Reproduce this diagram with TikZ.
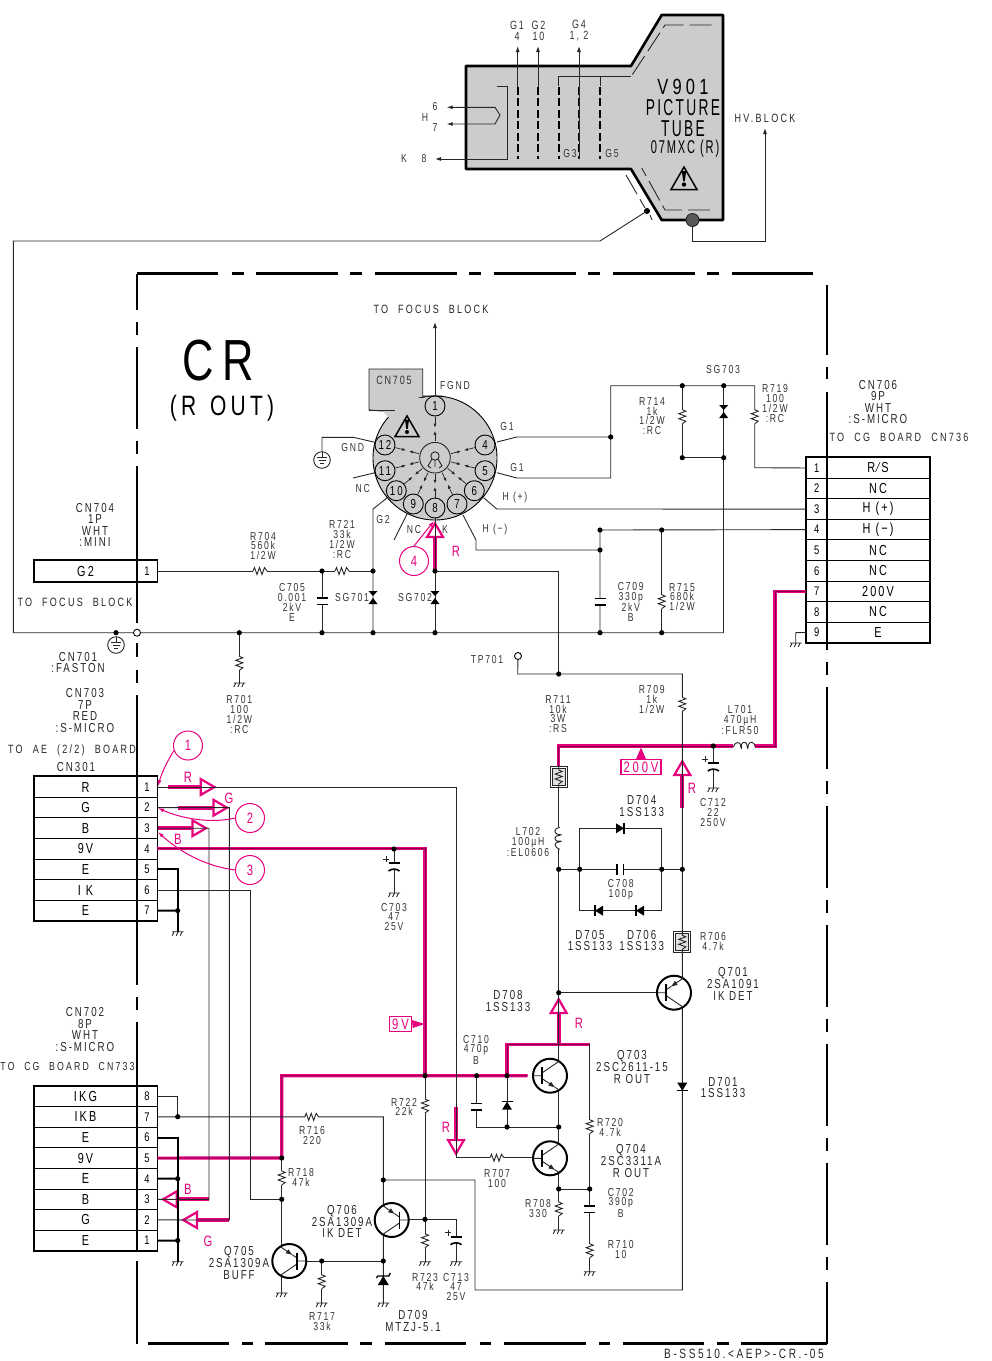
\documentclass[tikz,border=0pt]{standalone}
\usepackage{fontspec}
\setmainfont[FakeStretch=0.75,LetterSpace=15]{Liberation Sans}
\newfontfamily\tubefont[FakeStretch=0.6,LetterSpace=10]{Liberation Sans}
\newfontfamily\widefont[FakeStretch=0.75,LetterSpace=19,WordSpace=2.1]{Liberation Sans}
\usetikzlibrary{arrows.meta,calc}
\definecolor{pinkc}{RGB}{230,0,126}
\definecolor{boardgray}{RGB}{204,204,204}

\tikzset{
  wire/.style={line width=0.9pt,draw=black!85},
  thickwire/.style={line width=2pt,draw=black},
  frameline/.style={line width=2.8pt,draw=black},
  pinkwire/.style={line width=3.2pt,draw=pinkc,postaction={draw=pinkc!55!black,line width=0.8pt}},
  pinkarrow/.style={line width=4pt,draw=pinkc,-{Triangle[open,length=17pt,width=19pt,line width=2.2pt]}},
  lbl/.style={inner sep=0pt,align=center,text=black!80,font=\fontsize{11.5}{9.7}\selectfont},
  lblm/.style={inner sep=0pt,align=center,text=black!85,font=\fontsize{13}{11.6}\selectfont},
  lblw/.style={inner sep=0pt,text=black!85,font=\widefont\fontsize{12}{12}\selectfont},
  pinklbl/.style={inner sep=0pt,text=pinkc,font=\fontsize{15}{15}\selectfont},
  rowcell/.style={draw,line width=0.9pt,inner sep=0pt,minimum height=20.6pt,font=\fontsize{14.5}{14.5}\selectfont},
  pincell/.style={rowcell,minimum width=20pt,font=\fontsize{12.5}{12.5}\selectfont},
  pinc/.style={circle,draw,line width=0.9pt,fill=boardgray,inner sep=0pt,minimum size=20pt,font=\fontsize{13}{13}\selectfont},
  opendot/.style={circle,draw,fill=white,line width=0.9pt,inner sep=0pt,minimum size=7pt},
  callout/.style={circle,draw=pinkc,text=pinkc,line width=1pt,inner sep=0pt,minimum size=29pt,font=\fontsize{15}{15}\selectfont},
  flagbox/.style={draw=pinkc,text=pinkc,line width=1.2pt,inner sep=2.5pt,font=\widefont\fontsize{15}{15}\selectfont},
  resv/.pic={
    \draw[white,line width=2.5pt] (0,-7) -- (0,7);
    \draw[wire] (0,-7) -- (3.5,-5.5) -- (-3.5,-3) -- (3.5,-0.5) -- (-3.5,2) -- (3.5,4.5) -- (0,7);
  },
  resbox/.pic={
    \draw[wire,fill=white] (-8.5,-10.5) rectangle (8.5,10.5);
    \draw[wire,fill=boardgray!60] (-6.5,-8.5) rectangle (6.5,8.5);
    \draw[wire] (0,-10.5) -- (0,-7) -- (3.5,-5.5) -- (-3.5,-3) -- (3.5,-0.5) -- (-3.5,2) -- (3.5,4.5) -- (0,7) -- (0,10.5);
  },
  capv/.pic={
    \draw[white,line width=3pt] (0,-3.3) -- (0,3.3);
    \draw[line width=1.6pt] (-5.5,-3.3) -- (5.5,-3.3) (-5.5,3.3) -- (5.5,3.3);
  },
  elcap/.pic={
    \draw[white,line width=3pt] (0,-3) -- (0,3);
    \draw[line width=1.6pt] (-5.5,-3) -- (5.5,-3);
    \draw[line width=1.6pt] (-5.5,5) .. controls (-3,2.5) and (3,2.5) .. (5.5,5);
    \draw[wire] (-11,-7) -- (-5,-7) (-8,-10) -- (-8,-4);
  },
  diode/.pic={
    \fill (-5,-4) -- (5,-4) -- (0,4) -- cycle;
    \draw[line width=1.3pt] (-5.5,4) -- (5.5,4);
  },
  zener/.pic={
    \fill (-5.5,5) -- (5.5,5) -- (0,-4) -- cycle;
    \draw[line width=1.3pt] (-7,-2) -- (-5.5,-4) -- (5.5,-4) -- (7,-7);
  },
  sparkgap/.pic={
    \fill (-4.5,-6) -- (4.5,-6) -- (0,-1) -- cycle;
    \fill (-4.5,7) -- (4.5,7) -- (0,1) -- cycle;
  },
  gnd/.pic={
    \draw[wire] (-5.5,0) -- (6,0) (-3.5,0) -- (-5.5,4) (0.5,0) -- (-1.5,4) (4.5,0) -- (2.5,4);
  },
  egnd/.pic={
    \draw[wire,fill=white] (0,0) circle (8.3);
    \draw[wire] (0,-8.3) -- (0,-2.5) (-5,-2.5) -- (5,-2.5);
    \draw[wire] (-3.5,0.5) -- (3.5,0.5) (-2,3.5) -- (2,3.5);
  },
  indh/.pic={
    \draw[white,line width=4.5pt] (-11,0) -- (11,0);
    \draw[wire] (-11,1) .. controls (-9.5,-5) and (-3,-5) .. (-3.5,1) .. controls (-3.5,3) and (-2,3) .. (-3,-1) .. controls (-2,-5) and (3,-5) .. (3,1) .. controls (3,3) and (4,3) .. (4,-1) .. controls (5,-5) and (10,-5) .. (11,1);
  },
  warnsign/.pic={
    \draw[line width=1.5pt,line join=miter] (0,-11) -- (13,11.5) -- (-13,11.5) -- cycle;
    \fill (-2.2,-7) -- (2.2,-7) -- (0.8,3) -- (-0.8,3) -- cycle;
    \fill (0,6.5) circle (2.2);
  },
  npnq/.pic={
    \draw[line width=2pt,fill=white] (0,0) circle (17);
    \draw[wire] (-17,0) -- (-7.7,0) (-7.7,-3) -- (9,-14.4) (5,11.5) -- (9,14.4);
    \draw[line width=1.8pt] (-7.7,-8.5) -- (-7.7,8.5);
    \draw[wire,-{Latex[length=7pt,width=5pt]}] (-7.7,3) -- (5.5,12);
  },
  pnpq/.pic={
    \draw[line width=2pt,fill=white] (0,0) circle (17);
    \draw[wire] (-17,0) -- (-7.7,0) (-7.7,3) -- (9,14.4) (-7.7,-3) -- (-3,-6.2);
    \draw[line width=1.8pt] (-7.7,-8.5) -- (-7.7,8.5);
    \draw[wire,-{Latex[length=7pt,width=5pt]}] (9,-14.4) -- (-3.5,-5.8);
  },
}

\begin{document}
\begin{tikzpicture}[x=1pt,y=-1pt,>={Latex[length=6pt,width=4pt]}]
  \useasboundingbox (0,0) rectangle (992,1361);

  \foreach \a/\b in {273.5/310,322/335,347/429,441/454,466/622.7,643/657,670/683,695/985,997/1010,1022/1250,1261/1343.5}
    \draw[frameline] (137,\a) -- (137,\b);
  \foreach \a/\b in {285/355,367/379,392/650,662/675,687/769,781/794,806/888,900/913,925/1007,1019/1032,1044/1126,1138/1151,1163/1245,1257/1270,1282/1343.5}
    \draw[frameline] (827,\a) -- (827,\b);
  \foreach \a/\b in {137/218,231.5/244,255.5/337.5,350/362,374.5/456.5,469/481,493.5/575.5,588/600,612.5/694.5,707/719,731.5/813}
    \draw[frameline] (\a,273.5) -- (\b,273.5);
  \foreach \a/\b in {148/229,241.5/253,265/348,360/372,385/466,479.5/491,504/585.5,599/609.5,622.5/704,717/729,741/827}
    \draw[frameline] (\a,1343.5) -- (\b,1343.5);

  \draw[line width=2.6pt,fill=boardgray,line join=round] (466,66) -- (631,66) -- (661.7,15) -- (723,15) -- (723,220) -- (661.7,220) -- (631,169) -- (466,169) -- cycle;
  \draw[wire,dash pattern=on 22pt off 6pt] (711.7,25) -- (665,25) -- (631,76.7);
  \draw[wire] (631,76.7) -- (558.7,76.7) -- (558.7,86) (600,76.7) -- (600,86);
  \draw[wire,dash pattern=on 22pt off 6pt] (710,210) -- (665,210) -- (641.7,168);
  \draw[wire,dash pattern=on 22pt off 6pt] (626,175) -- (645,208);
  \draw[wire] (650,215) -- (652,220);
  \foreach \x in {517.7,538,558.7,579,600}
    \draw[line width=1.6pt,dash pattern=on 8pt off 3.5pt] (\x,86.7) -- (\x,159);
  \draw[wire,->] (517.7,86.7) -- (517.7,46);
  \draw[wire,->] (538,86.7) -- (538,46);
  \draw[wire,->] (579,159) -- (579,46);
  \draw[wire,->] (496.7,86.7) -- (507,86.7) -- (507,159) -- (435,159);
  \draw[wire,<->] (446.7,107.3) -- (495,107.3) -- (500,115) -- (495,124) -- (446.7,124);
  \coordinate (tubedot) at (647,211);
  \coordinate (hvdot) at (692.5,220);
  \fill (tubedot) circle (3);
  \draw[wire,->] (hvdot) -- (692.5,241) -- (765,241) -- (765,128);
  \draw[wire,fill=black!65] (hvdot) circle (6.5);
  \node[lbl,font=\fontsize{12}{11}\selectfont] (g1txt) at (517,30.5) {G1\\4};
  \node[lbl,font=\fontsize{12}{11}\selectfont] (g2txt) at (538.5,30.5) {G2\\10};
  \node[lbl,font=\fontsize{12}{11}\selectfont] (g4txt) at (579,30.5) {G4\\1, 2};
  \node[lbl] (htxt) at (425,118) {H};
  \node[lbl] (h6txt) at (435,107) {6};
  \node[lbl] (h7txt) at (435,128) {7};
  \node[lbl] (ktxt) at (404,159) {K};
  \node[lbl] (k8txt) at (424,159) {8};
  \node[lbl] (g3txt) at (570,154) {G3};
  \node[lbl] (g5txt) at (612,154) {G5};
  \node[inner sep=0pt,font=\widefont\fontsize{22}{22}\selectfont] (v901) at (683,87) {V901};
  \node[inner sep=0pt,font=\tubefont\fontsize{23}{23}\selectfont] (ptube) at (683,108) {PICTURE};
  \node[inner sep=0pt,font=\tubefont\fontsize{23}{23}\selectfont] (tubetxt) at (683,129) {TUBE};
  \node[inner sep=0pt,font=\tubefont\fontsize{18.5}{18.5}\selectfont] (mxc) at (685,149) {07MXC (R)};
  \pic at (684,178) {warnsign};
  \node[lblw] (hvtxt) at (765,118) {HV.BLOCK};

  \node[inner sep=0pt,font=\fontsize{58}{58}\selectfont] (crtxt) at (218,361) {CR};
  \node[inner sep=0pt,font=\fontsize{28}{28}\selectfont] (routtxt) at (222,408) {(R\hspace{14pt}OUT)};
  \node[lblw] (tofocus) at (431,309) {TO FOCUS BLOCK};

  \draw[wire,fill=boardgray] (369,369) -- (422.7,369) -- (422.7,396) -- (440,396) -- (395,412) -- (369,410) -- cycle;
  \node[circle,draw,line width=0.9pt,fill=boardgray,minimum size=124pt,inner sep=0pt] (socket) at (435,458) {};
  \fill[boardgray] (380,398) -- (422,398) -- (422,410) -- (392,420) -- (380,409) -- cycle;
  \draw[wire] (422.7,396) -- (430,396);
  \draw[wire] (369,410) -- (395,410);
  \node[lbl,font=\fontsize{12}{12}\selectfont] (cn705) at (394,380) {CN705};
  \coordinate (hub) at (435,457.7);
  \foreach \n/\x/\y in {1/435/406,4/485/445,5/485/470.7,6/474.3/490.7,7/457/504,8/435/508,9/413.3/504,10/396.3/490.7,11/385/470.7,12/385/445}
    \node[pinc] (p\n) at (\x,\y) {\n};
  \foreach \n in {1,4,5,6,7,8,9,10,11,12} {
    \draw[wire,line width=0.7pt,>={Latex[length=4pt,width=3pt]},->] ($(p\n)!10.5pt!(hub)$) -- ($(p\n)!0.42!(hub)$);
    \draw[wire,line width=0.7pt,>={Latex[length=4pt,width=3pt]},->] ($(hub)!16.5pt!(p\n)$) -- ($(hub)!0.52!(p\n)$);
  }
  \draw[wire] (hub) circle (15.3);
  \draw[wire] (435,456) circle (4.2);
  \draw[wire] (435,460) -- (435,467) (432,459) -- (428,466) -- (431,468) (438,459) -- (442,466) -- (439,468);
  \pic[scale=0.92] at (407,426) {warnsign};
  \draw[wire,->] (p1) -- (435,322);

  \foreach \n/\x/\y in {
    busL/13.3/632.7, busR/723.7/632.7, bgnd/116/632.7, b239/239.3/632.7, b322/322/632.7, b373/373/632.7, b435/435/632.7,
    b600/600/632.7, b662/661.7/632.7, w322/322/571, w373/373/571, w435/435/571, h600/600/550, k600/600/530, k662/661.7/530,
    t611/610.7/437, t683/682.3/385.7, t724/723.7/385.7, m683/682.3/457.7, m724/723.7/457.7,
    r558/558.7/674, s558/558.7/746, s713/713.3/746, n559/558.7/869.3, n580/579.7/869.3, n662/661.7/869.3, n683/682.3/869.3,
    q559/558.7/992.7, j281/281.7/1158, j281b/281.7/1199.3, j425/425/1075.7, j477/476.7/1075.7, j507/507/1075.7,
    l507/507/1127, l559/558.7/1127, e559/558.7/1189, e590/589.7/1189, j178a/177.7/1116.7, j178b/177.7/1178.7, j178c/177.7/1240.5,
    j178d/177.7/910.6, j383/383.3/1180, j383b/383.3/1261, j322/321.7/1261, j425b/425/1219.3, c394/394/849
  } \coordinate (\n) at (\x,\y);

  \foreach \i/\t in {1/R,2/G,3/B,4/9V,5/E,6/I K,7/E} {
    \node[rowcell,minimum width=103pt] (cna\i) at (85.5,{776.7+(\i-0.5)*20.6}) {\t};
    \node[pincell] (cnap\i) at (147,{776.7+(\i-0.5)*20.6}) {\i};
  }
  \draw[line width=1.8pt] (cna1.north west) rectangle (cnap7.south east);
  \foreach \i/\t/\p in {1/IKG/8,2/IKB/7,3/E/6,4/9V/5,5/E/4,6/B/3,7/G/2,8/E/1} {
    \node[rowcell,minimum width=103pt] (cnb\p) at (85.5,{1086+(\i-0.5)*20.6}) {\t};
    \node[pincell] (cnbp\p) at (147,{1086+(\i-0.5)*20.6}) {\p};
  }
  \draw[line width=1.8pt] (cnb8.north west) rectangle (cnbp1.south east);
  \foreach \i/\t in {1/R∕S,2/NC,3/H (+),4/H (−),5/NC,6/NC,7/200V,8/NC,9/E} {
    \node[pincell] (cncp\i) at (816.7,{457.7+(\i-0.5)*20.55}) {\i};
    \node[rowcell,minimum width=102.6pt,minimum height=20.55pt] (cnc\i) at (878,{457.7+(\i-0.5)*20.55}) {\t};
  }
  \draw[line width=1.8pt] (cncp1.north west) rectangle (cnc9.south east);
  \node[rowcell,minimum width=103pt] (cnd) at (85.5,571) {G2};
  \node[pincell] (cndp) at (147,571) {1};
  \draw[line width=1.8pt] (cnd.north west) rectangle (cndp.south east);

  \draw[pinkarrow] (167.7,787) -- (216.7,787);
  \draw[pinkarrow] (178.3,807.7) -- (229.3,807.7);
  \draw[pinkarrow] (157.5,828.2) -- (208.3,828.2);
  \draw[pinkarrow] (209,1199.3) -- (160.7,1199.3);
  \draw[pinkarrow] (229.3,1220) -- (181,1220);
  \draw[pinkarrow] (682.3,808) -- (682.3,759);
  \draw[pinkarrow] (558.7,1044) -- (558.7,997);
  \draw[pinkarrow] (456,1106.7) -- (456,1156);
  \draw[pinkarrow] (w435) -- (435,521);

  \draw[pinkwire] (cnap4.east) -| (j425);
  \draw[pinkwire] (cnbp5.east) -- (j281) -- (281.7,1075.7) -- (527.7,1075.7);
  \draw[pinkwire] (j507) |- (589.7,1044.3);
  \draw[pinkwire] (cncp7.west) -| (775,746) -- (s558) -- (558.7,767);

  \draw[wire] (tubedot) -- (600,241) -- (13.3,241) -- (busL) -- (busR);
  \draw[wire] (p12.165) -- (353.3,437.3) -- (322,437.3) -- (322,452);
  \draw[wire] (375,472.7) -- (353,478);
  \draw[wire] (387,498) -- (373,509) -- (b373);
  \draw[wire] (407,514) -- (394,540);
  \draw[wire] (p8.south) -- (b435);
  \draw[wire] (463,515) -- (476,540) -- (476,550) -- (h600);
  \draw[wire] (484,498) -- (496.7,509) -- (cncp3.west);
  \draw[wire] (497,472.7) -- (516.7,478) -- (610.7,478) -- (t611);
  \draw[wire] (497,442) -- (516.7,437) -- (t611) -- (610.7,385.7) -- (754.7,385.7) -- (754.7,467.7) -- (cncp1.west);
  \draw[wire] (t683) -- (m683) -- (m724);
  \draw[wire] (t724) -- (busR);
  \draw[wire] (cncp4.west) -- (k600) -- (b600);
  \draw[wire] (k662) -- (b662);
  \draw[wire] (cncp9.west) -- (795.7,632.7) -- (795.7,643);
  \draw[wire] (cndp.east) -- (w373);
  \draw[wire] (w322) -- (b322);
  \draw[wire] (b239) -- (239.3,683);
  \draw[wire] (w435) -- (558.7,571) -- (r558);
  \node[opendot] (tp701) at (518,656) {};
  \draw[wire] (tp701) -- (517.7,674) -- (682.3,674) -- (682.3,1290) -- (475,1290) -- (475,1180) -- (j383);
  \draw[wire] (558.7,767) -- (q559) -- (558.7,1061);
  \draw[wire] (s713) -- (713.3,788);
  \draw[wire] (n559) -- (n683);
  \draw[wire] (n580) -- (579.7,828.3) -- (661.7,828.3) -- (n662);
  \draw[wire] (n580) -- (579.7,910.7) -- (661.7,910.7) -- (n662);
  \draw[wire] (q559) -- (657,992.7);
  \draw[wire] (cnap1.east) -| (456,1157.7) -- (533.3,1157.7);
  \draw[wire] (cnap2.east) -| (229.3,1220) -- (cnbp2.east);
  \draw[wire] (cnap3.east) -| (209,1199.3) -- (cnbp3.east);
  \draw[wire] (cnap6.east) -| (250,1199.3) -- (j281b);
  \draw[thickwire] (cnap5.east) -| (177.7,931.7);
  \draw[thickwire] (cnap7.east) -- (j178d);
  \draw[wire] (cnbp8.east) -| (j178a);
  \draw[wire] (cnbp7.east) -- (383.3,1116.9) -- (383.3,1303);
  \draw[thickwire] (cnbp6.east) -| (177.7,1261.7);
  \draw[thickwire] (cnbp4.east) -- (j178b);
  \draw[thickwire] (cnbp1.east) -- (j178c);
  \draw[wire] (j281) -- (281.7,1293);
  \draw[wire] (j322) -- (321.7,1303);
  \draw[wire] (274,1261) -- (j383b);
  \draw[wire] (c394) -- (394,893);
  \draw[wire] (j425) -- (425,1261.7);
  \draw[wire] (j425b) -- (456,1219.3) -- (456,1261.7);
  \draw[wire] (400,1219.3) -- (j425b);
  \draw[wire] (j477) -- (476.7,1127) -- (l559);
  \draw[wire] (j507) -- (l507);
  \draw[wire] (558.7,1090) -- (558.7,1230);
  \draw[wire] (e559) -- (e590);
  \draw[wire] (589.7,1044.3) -- (589.7,1271.7);
  \foreach \n in {bgnd,b239,b322,b373,b435,b600,b662,w322,w373,w435,h600,k600,k662,t611,t683,t724,m683,m724,r558,s713,n559,n580,n662,n683,q559,j281,j281b,j425,j477,j507,l507,l559,e559,e590,j178a,j178b,j178c,j178d,j383,j383b,j322,j425b,c394}
    \fill (\n) circle (2.6);
  \node[opendot] (faston) at (137,632.7) {};

  \pic at (322,460) {egnd};
  \pic at (116,645) {egnd};
  \pic at (682.3,416.7) {resv};
  \pic at (754.7,416.7) {resv};
  \pic at (723.7,411) {sparkgap};
  \pic at (373,597) {sparkgap};
  \pic at (435,597) {sparkgap};
  \pic at (322,601) {capv};
  \pic at (600,601.7) {capv};
  \pic at (661.7,601.7) {resv};
  \pic at (239.3,663.3) {resv};
  \pic at (239.3,683) {gnd};
  \pic at (795.7,643) {gnd};
  \pic[rotate=90] at (260,571) {resv};
  \pic[rotate=90] at (342,571) {resv};
  \pic at (682.3,704.3) {resv};
  \pic at (744.3,746) {indh};
  \pic at (713.3,766) {elcap};
  \pic at (713.3,788) {gnd};
  \pic at (558.7,777) {resbox};
  \pic at (682.3,942.3) {resbox};
  \pic[rotate=90] at (558.7,838.3) {indh};
  \pic[rotate=90] at (620,828.3) {diode};
  \pic[rotate=90] at (620.3,869.3) {capv};
  \pic[rotate=-90] at (599,910.7) {diode};
  \pic[rotate=-90] at (640,910.7) {diode};
  \pic at (674,992.7) {pnpq};
  \pic at (682.3,1086.7) {diode};
  \pic at (550,1075.7) {npnq};
  \pic at (550,1158.3) {npnq};
  \pic at (476.7,1106.7) {capv};
  \pic[rotate=180] at (507,1105.7) {diode};
  \pic at (589.7,1126.7) {resv};
  \pic at (558.7,1209) {resv};
  \pic at (558.7,1230) {gnd};
  \pic at (589.7,1209) {capv};
  \pic at (589.7,1250.7) {resv};
  \pic at (589.7,1271.7) {gnd};
  \pic[rotate=90] at (497,1157.7) {resv};
  \pic at (425,1106) {resv};
  \pic at (425,1240.7) {resv};
  \pic at (425,1261.7) {gnd};
  \pic at (456,1239.7) {elcap};
  \pic at (456,1261.7) {gnd};
  \pic at (394,866) {elcap};
  \pic at (394,893) {gnd};
  \pic[rotate=90] at (311.7,1116.9) {resv};
  \pic at (281.7,1178) {resv};
  \pic[xscale=-1] at (391.7,1220) {pnpq};
  \pic[xscale=-1] at (289.3,1261) {pnpq};
  \pic at (281.7,1293) {gnd};
  \pic at (321.7,1281.7) {resv};
  \pic at (321.7,1303) {gnd};
  \pic at (383.3,1280) {zener};
  \pic at (383.3,1303) {gnd};
  \pic at (177.7,931.7) {gnd};
  \pic at (177.7,1261.7) {gnd};

  \node[lbl] (gndtxt) at (352.7,448) {GND};
  \node[lbl] (fgnd) at (455,386) {FGND};
  \node[lbl] (nca) at (362.7,489) {NC};
  \node[lbl] (g2txtb) at (383,520) {G2};
  \node[lbl] (ncb) at (414,530) {NC};
  \node[lbl] (ktxtb) at (445,530) {K};
  \node[lbl] (hmtxt) at (495,530) {H (−)};
  \node[lbl] (hptxt) at (515,498) {H (+)};
  \node[lbl] (g1a) at (507,427) {G1};
  \node[lbl] (g1b) at (517,468) {G1};
  \node[lbl] (sg703) at (723,370) {SG703};
  \node[lbl] (r714) at (652,416) {R714\\1k\\1/2W\\:RC};
  \node[lbl] (r719) at (775,403.5) {R719\\100\\1/2W\\:RC};
  \node[lblm] (cn706) at (878,402) {CN706\\9P\\WHT\\:S-MICRO};
  \node[lblw] (tocg) at (899,437) {TO CG BOARD CN736};
  \node[lbl] (c709) at (630.7,602) {C709\\330p\\2kV\\B};
  \node[lbl] (r715) at (682,597) {R715\\680k\\1/2W};
  \node[lbl] (r704) at (263,546) {R704\\560k\\1/2W};
  \node[lbl] (r721) at (342,539.5) {R721\\33k\\1/2W\\:RC};
  \node[lbl] (c705) at (292,602.5) {C705\\0.001\\2kV\\E};
  \node[lbl] (sg701) at (352,598) {SG701};
  \node[lbl] (sg702) at (415,598) {SG702};
  \node[lbl] (tp701txt) at (487,660) {TP701};
  \node[lbl] (r701) at (239.3,714.5) {R701\\100\\1/2W\\:RC};
  \node[lblm] (cn704) at (95,525) {CN704\\1P\\WHT\\:MINI};
  \node[lblw] (tofocusb) at (75,602) {TO FOCUS BLOCK};
  \node[lblm] (cn701) at (78,662.5) {CN701\\:FASTON};
  \node[lblm] (cn703) at (85,710.5) {CN703\\7P\\RED\\:S-MICRO};
  \node[lblw] (toae) at (72,750) {TO AE (2/2) BOARD};
  \node[lblm] (cn301) at (76,767) {CN301};
  \node[lbl] (r711) at (558,714) {R711\\10k\\3W\\:RS};
  \node[lbl] (r709) at (651.7,699.5) {R709\\1k\\1/2W};
  \node[lbl] (l701) at (740,720) {L701\\470µH\\:FLR50};
  \node[lbl] (c712) at (713,812.5) {C712\\22\\250V};
  \node[lblm] (d704) at (641.7,806) {D704\\1SS133};
  \node[lbl] (l702) at (528,842) {L702\\100µH\\:EL0606};
  \node[lbl] (c708) at (620.7,890) {C708\\100p};
  \node[lbl] (c703) at (394,917) {C703\\47\\25V};
  \node[lblm] (d705) at (590,940.5) {D705\\1SS133};
  \node[lblm] (d706) at (641.7,940.5) {D706\\1SS133};
  \node[lbl] (r706) at (713,941.5) {R706\\4.7k};
  \node[lblm] (q701) at (733,984) {Q701\\2SA1091\\IK DET};
  \node[lblm] (d708) at (508,1001) {D708\\1SS133};
  \node[lblm] (d701) at (723,1087.5) {D701\\1SS133};
  \node[lbl] (c710) at (476,1049.5) {C710\\470p\\B};
  \node[lblm] (q703) at (632,1067) {Q703\\2SC2611-15\\R OUT};
  \node[lbl] (r720) at (610,1127.5) {R720\\4.7k};
  \node[lbl] (r722) at (404,1107) {R722\\22k};
  \node[lblm] (q704) at (631,1161) {Q704\\2SC3311A\\R OUT};
  \node[lbl] (r707) at (497,1178.5) {R707\\100};
  \node[lbl] (r708) at (538,1208.5) {R708\\330};
  \node[lbl] (c702) at (620.7,1202.5) {C702\\390p\\B};
  \node[lbl] (r710) at (620.7,1249.5) {R710\\10};
  \node[lbl] (r723) at (425,1282) {R723\\47k};
  \node[lbl] (c713) at (456,1287) {C713\\47\\25V};
  \node[lblm] (d709) at (413,1321) {D709\\MTZJ-5.1};
  \node[lblm] (cn702) at (85,1029.5) {CN702\\8P\\WHT\\:S-MICRO};
  \node[lblw,font=\widefont\fontsize{11.6}{11.6}\selectfont] (tocgb) at (67.5,1066) {TO CG BOARD CN733};
  \node[lbl] (r716) at (312,1135.5) {R716\\220};
  \node[lbl] (r718) at (301,1177.5) {R718\\47k};
  \node[lblm] (q706) at (342,1221.5) {Q706\\2SA1309A\\IK DET};
  \node[lblm] (q705) at (239,1263) {Q705\\2SA1309A\\BUFF};
  \node[lbl] (r717) at (322,1321.5) {R717\\33k};
  \node[lblw,font=\widefont\fontsize{13.5}{13.5}\selectfont] (footer) at (744,1354) {B-SS510.<AEP>-CR.-05};

  \node[pinklbl] (prr) at (188,777) {R};
  \node[pinklbl] (pgg) at (229,798) {G};
  \node[pinklbl] (pbb) at (178,839) {B};
  \node[pinklbl] (pbc) at (188,1189) {B};
  \node[pinklbl] (pgc) at (208,1241) {G};
  \node[pinklbl] (prk) at (456,551) {R};
  \node[pinklbl] (pra) at (692,788) {R};
  \node[pinklbl] (prb) at (579,1023) {R};
  \node[pinklbl] (prc) at (446,1127) {R};
  \node[callout] (c1) at (188,745.5) {1};
  \node[callout] (c2) at (250,818) {2};
  \node[callout] (c3) at (250,870) {3};
  \node[callout] (c4) at (414,561) {4};
  \draw[draw=pinkc,line width=1pt,->] (c1.200) .. controls (168,760) and (162,772) .. (158,786);
  \draw[draw=pinkc,line width=1pt,->] (c2.west) .. controls (210,824) and (180,818) .. (158,808);
  \draw[draw=pinkc,line width=1pt,->] (c3.west) .. controls (205,866) and (180,852) .. (158,832);
  \draw[draw=pinkc,line width=1pt,->] (c4.north) -- (434,521);
  \node[flagbox] (f200) at (641,767) {200V};
  \fill[pinkc] (636,759) -- (641,747.5) -- (646,759) -- cycle;
  \node[flagbox] (f9v) at (400.5,1024) {9V};
  \fill[pinkc] (f9v.east) ++(0,-4) -- (424.5,1024) -- (412.7,1028) -- cycle;
\end{tikzpicture}
\end{document}
